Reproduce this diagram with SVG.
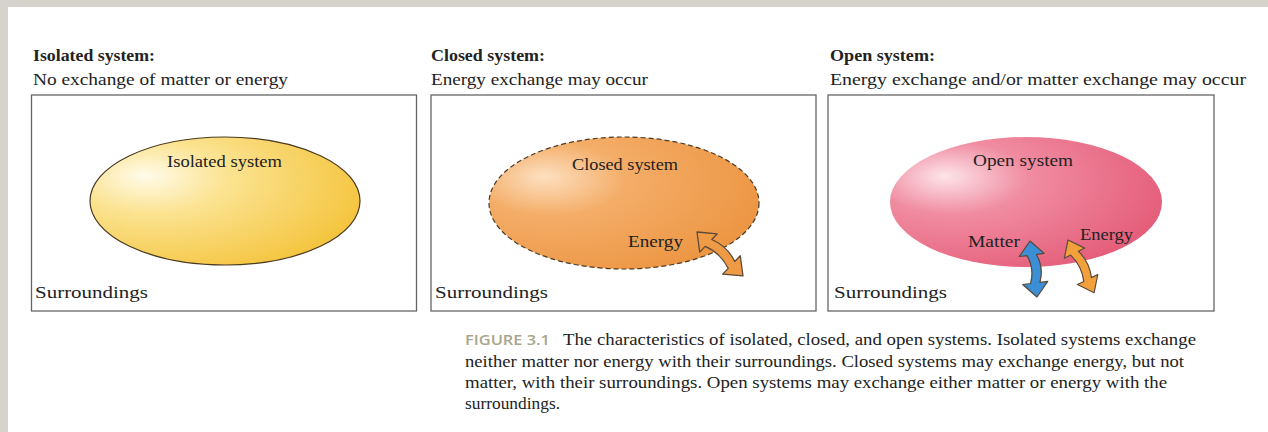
<svg xmlns="http://www.w3.org/2000/svg" width="1268" height="432" viewBox="0 0 1268 432">
  <style>
    .serif { font-family: "Liberation Serif", "Times New Roman", serif; fill: #222; }
    .title { font-size: 16.5px; font-weight: bold; }
    .sub { font-size: 17.5px; }
    .label { font-size: 16.5px; }
    .cap { font-size: 16.5px; }
    .fig { font-family: "Open Sans", "Liberation Sans", sans-serif; font-size: 15px; font-weight: 600; fill: #a9a68c; }
    .frame { fill: #fff; stroke: #666; stroke-width: 1.3; }
    .arrow { stroke: #5a4a3a; stroke-width: 1.2; stroke-linejoin: round; }
  </style>
  <defs>
    <radialGradient id="gYellow" cx="0.28" cy="0.35" r="0.8" fx="0.2" fy="0.3">
      <stop offset="0" stop-color="#fffbea"/>
      <stop offset="0.35" stop-color="#fbe391"/>
      <stop offset="1" stop-color="#f4c238"/>
    </radialGradient>
    <radialGradient id="gOrange" cx="0.28" cy="0.35" r="0.8" fx="0.2" fy="0.3">
      <stop offset="0" stop-color="#fde0c0"/>
      <stop offset="0.35" stop-color="#f4ad68"/>
      <stop offset="1" stop-color="#ec9440"/>
    </radialGradient>
    <radialGradient id="gPink" cx="0.28" cy="0.35" r="0.8" fx="0.2" fy="0.3">
      <stop offset="0" stop-color="#fde4e9"/>
      <stop offset="0.35" stop-color="#f08ca1"/>
      <stop offset="1" stop-color="#e45a77"/>
    </radialGradient>
    <!-- double-headed curved arrow, tip to tip along +x, length 60 -->
    <path id="dblArrow" d="M0,0 L15,-12 L15,-4.5 Q30,-10 45,-4.5 L45,-12 L60,0 L45,12 L45,4.5 Q30,-1 15,4.5 L15,12 Z"/>
  </defs>

  <!-- page -->
  <rect x="0" y="0" width="1268" height="432" fill="#d6d2cc"/>
  <rect x="8" y="7" width="1260" height="425" fill="#ffffff"/>

  <!-- headings -->
  <text class="serif title" x="33" y="61" textLength="122" lengthAdjust="spacingAndGlyphs">Isolated system:</text>
  <text class="serif sub" x="33" y="85" textLength="255" lengthAdjust="spacingAndGlyphs">No exchange of matter or energy</text>
  <text class="serif title" x="431" y="61" textLength="114" lengthAdjust="spacingAndGlyphs">Closed system:</text>
  <text class="serif sub" x="431" y="85" textLength="217" lengthAdjust="spacingAndGlyphs">Energy exchange may occur</text>
  <text class="serif title" x="830" y="61" textLength="105" lengthAdjust="spacingAndGlyphs">Open system:</text>
  <text class="serif sub" x="830" y="85" textLength="416" lengthAdjust="spacingAndGlyphs">Energy exchange and/or matter exchange may occur</text>

  <!-- isolated system -->
  <g id="isolated">
    <rect class="frame" x="31.5" y="95" width="385" height="216"/>
    <ellipse cx="225" cy="201" rx="135" ry="64" fill="url(#gYellow)" stroke="#4a3a20" stroke-width="1.2"/>
    <text class="serif label" x="167" y="167" textLength="115" lengthAdjust="spacingAndGlyphs">Isolated system</text>
    <text class="serif label" x="35" y="298" textLength="113" lengthAdjust="spacingAndGlyphs">Surroundings</text>
  </g>

  <!-- closed system -->
  <g id="closed">
    <rect class="frame" x="431" y="95" width="385" height="216"/>
    <ellipse cx="624" cy="203" rx="135" ry="66" fill="url(#gOrange)" stroke="#4a3a28" stroke-width="1.2" stroke-dasharray="5 3"/>
    <text class="serif label" x="572" y="170" textLength="106" lengthAdjust="spacingAndGlyphs">Closed system</text>
    <text class="serif label" x="628" y="247" textLength="55" lengthAdjust="spacingAndGlyphs">Energy</text>
    <text class="serif label" x="435" y="298" textLength="113" lengthAdjust="spacingAndGlyphs">Surroundings</text>
  </g>

  <!-- open system -->
  <g id="open">
    <rect class="frame" x="828" y="95" width="386" height="216"/>
    <ellipse cx="1026" cy="202" rx="136" ry="65" fill="url(#gPink)"/>
    <text class="serif label" x="973" y="166" textLength="100" lengthAdjust="spacingAndGlyphs">Open system</text>
    <text class="serif label" x="968" y="247" textLength="52" lengthAdjust="spacingAndGlyphs">Matter</text>
    <text class="serif label" x="1080" y="240" textLength="53" lengthAdjust="spacingAndGlyphs">Energy</text>
    <text class="serif label" x="834" y="298" textLength="113" lengthAdjust="spacingAndGlyphs">Surroundings</text>
  </g>

  <!-- exchange arrows -->
  <g id="connectors">
    <use href="#dblArrow" class="arrow" fill="#ef9a45" transform="translate(697,232) rotate(43.7) scale(1.06)"/>
    <use href="#dblArrow" class="arrow" fill="#3a8fd6" stroke="#2a4a70" transform="translate(1030,241) rotate(82.9) scale(0.94,1.05)"/>
    <use href="#dblArrow" class="arrow" fill="#f2a03c" transform="translate(1068,240) rotate(63.6) scale(0.98,0.95)"/>
  </g>

  <!-- caption -->
  <g id="caption">
    <text class="fig" x="465" y="345" textLength="85" lengthAdjust="spacingAndGlyphs">FIGURE 3.1</text>
    <text class="serif cap" x="563" y="345" textLength="633" lengthAdjust="spacingAndGlyphs">The characteristics of isolated, closed, and open systems. Isolated systems exchange</text>
    <text class="serif cap" x="465" y="367" textLength="719" lengthAdjust="spacingAndGlyphs">neither matter nor energy with their surroundings. Closed systems may exchange energy, but not</text>
    <text class="serif cap" x="465" y="388" textLength="702" lengthAdjust="spacingAndGlyphs">matter, with their surroundings. Open systems may exchange either matter or energy with the</text>
    <text class="serif cap" x="465" y="409" textLength="95" lengthAdjust="spacingAndGlyphs">surroundings.</text>
  </g>
</svg>
